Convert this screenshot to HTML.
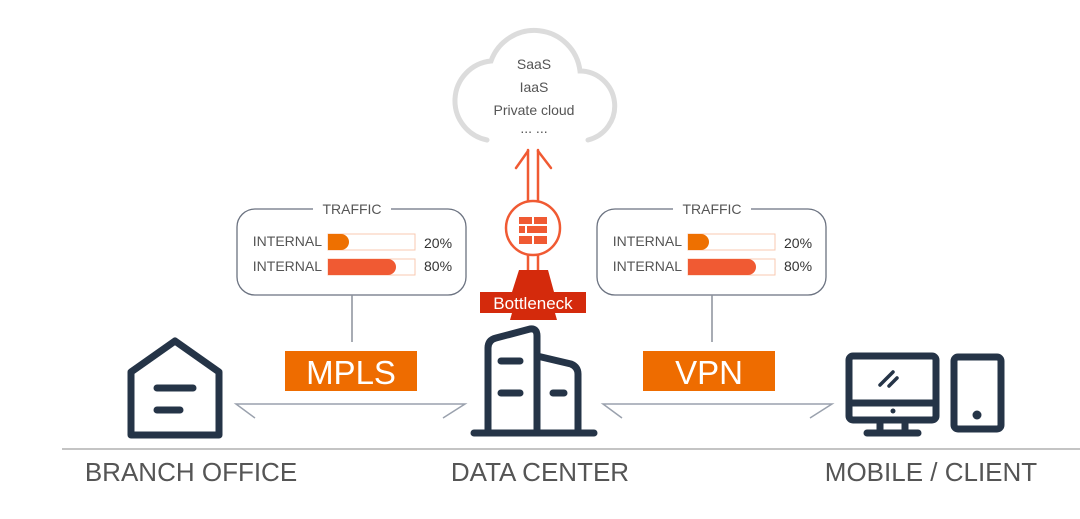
<!DOCTYPE html>
<html><head><style>
html,body{margin:0;padding:0;background:#fff}
svg{display:block}
text{font-family:"Liberation Sans",sans-serif}
</style></head><body>
<svg width="1080" height="519" viewBox="0 0 1080 519" xmlns="http://www.w3.org/2000/svg">
<!-- cloud -->
<path d="M487,140 A40,40 0 0 1 491,61 A46,46 0 0 1 580,71 A35,35 0 0 1 588,140" fill="none" stroke="#dcdcdc" stroke-width="5" stroke-linecap="round"/>
<g fill="#555" font-size="14" text-anchor="middle">
<text x="534" y="69">SaaS</text>
<text x="534" y="92">IaaS</text>
<text x="534" y="115">Private cloud</text>
<text x="534" y="133">... ...</text>
</g>
<!-- arrows -->
<g stroke="#f05a33" stroke-width="2.5" fill="none" stroke-linecap="round">
<line x1="528" y1="150" x2="528" y2="201"/>
<line x1="538" y1="150" x2="538" y2="201"/>
<polyline points="516,168 528,151"/>
<polyline points="538,151 551,168"/>
<circle cx="533" cy="228" r="27"/>
<line x1="528" y1="255" x2="528" y2="272"/>
<line x1="538" y1="255" x2="538" y2="272"/>
</g>
<g fill="#f05a33">
<rect x="519" y="217" width="13" height="7"/><rect x="534" y="217" width="13" height="7"/>
<rect x="519" y="226" width="6" height="7"/><rect x="527" y="226" width="20" height="7"/>
<rect x="519" y="236" width="13" height="8"/><rect x="534" y="236" width="13" height="8"/>
</g>
<polygon points="519,270 548,270 554,292 512,292" fill="#d42a0c"/>
<rect x="480" y="292" width="106" height="21" fill="#d42a0c"/>
<polygon points="512,313 555,313 557,320 510,320" fill="#d42a0c"/>
<text x="533" y="309" font-size="17" fill="#fff" text-anchor="middle">Bottleneck</text>
<!-- traffic boxes -->
<g id="tb">
<rect x="237" y="209" width="229" height="86" rx="18" fill="none" stroke="#6b7280" stroke-width="1.3"/>
<rect x="313" y="200" width="78" height="18" fill="#fff"/>
<text x="352" y="214" font-size="14" fill="#555" text-anchor="middle">TRAFFIC</text>
<text x="322" y="246" font-size="14" fill="#555" text-anchor="end">INTERNAL</text>
<text x="322" y="271" font-size="14" fill="#555" text-anchor="end">INTERNAL</text>
<rect x="328" y="234" width="87" height="16" fill="none" stroke="#f8c9b0" stroke-width="1"/>
<path d="M328,234 H341 A8,8 0 0 1 341,250 H328 Z" fill="#ee7000"/>
<rect x="328" y="259" width="87" height="16" fill="none" stroke="#f8c9b0" stroke-width="1"/>
<path d="M328,259 H388 A8,8 0 0 1 388,275 H328 Z" fill="#f05a33"/>
<text x="424" y="248" font-size="14" fill="#333">20%</text>
<text x="424" y="271" font-size="14" fill="#333">80%</text>
<line x1="352" y1="295" x2="352" y2="342" stroke="#8a909a" stroke-width="1.5"/>
</g>
<use href="#tb" transform="translate(360,0)"/>
<!-- labels -->
<rect x="285" y="351" width="132" height="40" fill="#ee6c00"/>
<text x="351" y="384" font-size="33" fill="#fff" text-anchor="middle">MPLS</text>
<rect x="643" y="351" width="132" height="40" fill="#ee6c00"/>
<text x="709" y="384" font-size="33" fill="#fff" text-anchor="middle">VPN</text>
<!-- connections -->
<g stroke="#9aa1ad" stroke-width="1.5" fill="none">
<polyline points="255,418 236,404 465,404 443,418"/>
<polyline points="622,418 603,404 832,404 810,418"/>
</g>
<line x1="62" y1="449" x2="1080" y2="449" stroke="#b0b0b0" stroke-width="1.5"/>
<!-- icons -->
<g stroke="#253447" stroke-width="7" fill="none" stroke-linecap="round" stroke-linejoin="round">
<polygon points="131,372 175,341 219,372 219,435 131,435"/>
<line x1="157" y1="388" x2="193" y2="388"/>
<line x1="157" y1="410" x2="180" y2="410"/>
<line x1="474" y1="433" x2="594" y2="433"/>
<path d="M488,433 V348 Q488,340 496,338 L530,329 Q537,328 537,336 V433"/>
<path d="M537,356 L571,364 Q578,367 578,374 V433"/>
<line x1="501" y1="361" x2="520" y2="361"/>
<line x1="501" y1="393" x2="520" y2="393"/>
<line x1="553" y1="393" x2="564" y2="393"/>
<rect x="849" y="356" width="87" height="64" rx="4"/>
<line x1="849" y1="403" x2="936" y2="403"/>
<line x1="880" y1="421" x2="880" y2="432"/>
<line x1="905" y1="421" x2="905" y2="432"/>
<line x1="867" y1="433" x2="918" y2="433"/>
<rect x="954" y="357" width="47" height="72" rx="4"/>
</g>
<g stroke="#253447" stroke-width="3.5" stroke-linecap="round">
<line x1="880" y1="385" x2="893" y2="372"/>
<line x1="889" y1="386" x2="897" y2="378"/>
</g>
<circle cx="893" cy="411" r="2.5" fill="#253447"/>
<circle cx="977" cy="415" r="4.5" fill="#253447"/>
<g font-size="26" fill="#555" text-anchor="middle">
<text x="191" y="481">BRANCH OFFICE</text>
<text x="540" y="481">DATA CENTER</text>
<text x="931" y="481">MOBILE / CLIENT</text>
</g>
</svg>
</body></html>
